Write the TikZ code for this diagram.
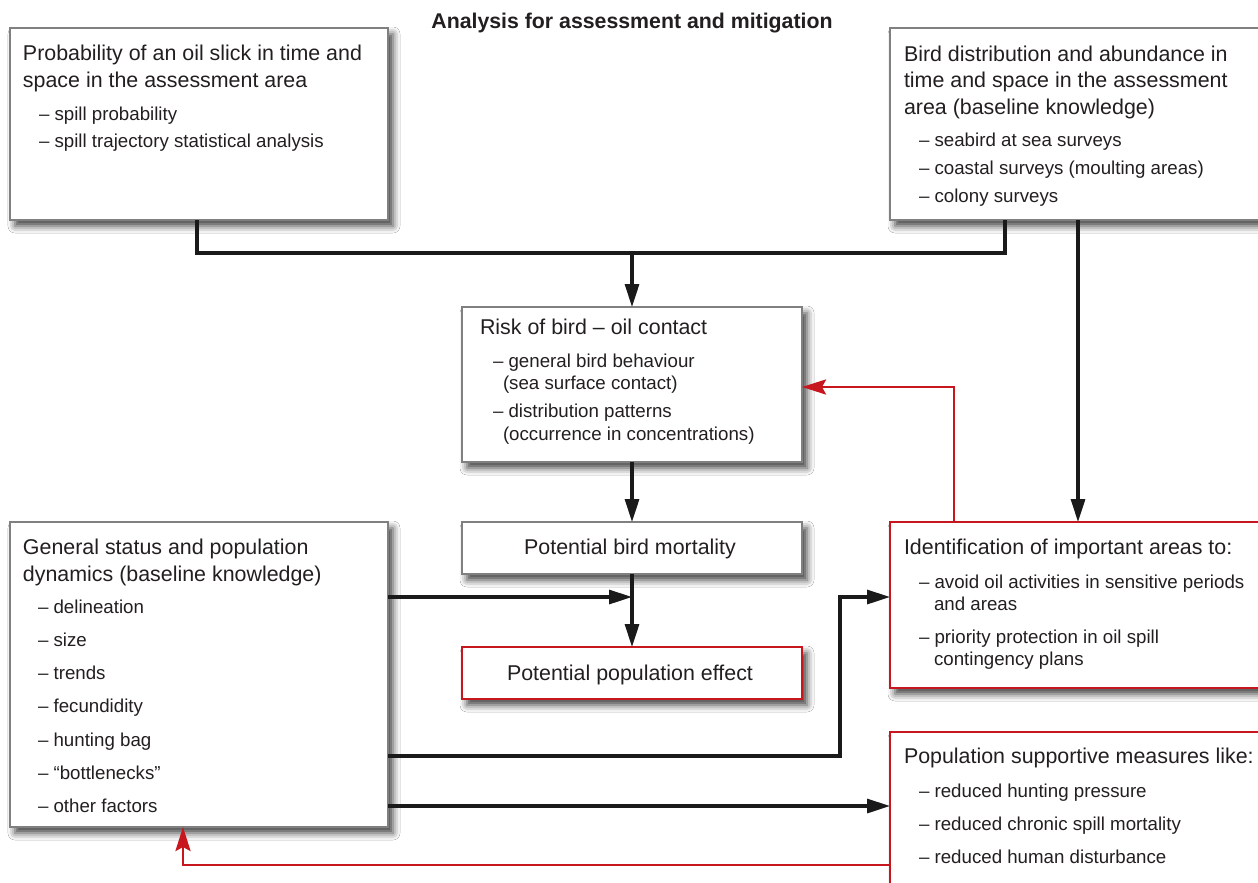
\documentclass[tikz,border=0pt]{standalone}
\usepackage{fontspec}
\setmainfont{Liberation Sans}
\usetikzlibrary{arrows.meta,shadows.blur}
\definecolor{boxgray}{RGB}{128,128,128}
\definecolor{myred}{RGB}{200,22,30}
\definecolor{txt}{RGB}{35,31,32}
\definecolor{lnk}{RGB}{26,26,26}
\tikzset{
  box/.style={draw=boxgray, line width=1.6pt, fill=white, inner sep=0pt, outer sep=0pt,
    anchor=north west,
    blur shadow={shadow xshift=5pt, shadow yshift=-6pt, shadow blur radius=7pt, shadow opacity=75}},
  rbox/.style={box, draw=myred, line width=2.2pt},
  ttl/.style={anchor=base west, inner sep=0pt, outer sep=0pt, text=txt, font=\fontsize{21.4}{26}\selectfont},
  itm/.style={anchor=base west, inner sep=0pt, outer sep=0pt, text=txt, font=\fontsize{18.7}{24}\selectfont},
  conn/.style={draw=lnk, line width=3.2pt},
  arr/.style={conn, -{Triangle[length=23pt,width=14pt]}},
  rarr/.style={draw=myred, line width=2.8pt, -{Stealth[length=24pt,width=15pt,inset=4pt]}},
}
\begin{document}
\begin{tikzpicture}[x=1pt,y=-1pt]
\useasboundingbox (0,0) rectangle (1258,883);
\clip (0,0) rectangle (1258,883);
\fill[white] (0,0) rectangle (1258,883);

% heading
\node[anchor=base, inner sep=0pt, text=txt, font=\bfseries\fontsize{21.3}{26}\selectfont] (head) at (632,29) {Analysis for assessment and mitigation};

% boxes
\node[box, minimum width=378pt, minimum height=192pt] (A) at (10,28) {};
\node[box, minimum width=390pt, minimum height=192pt] (B) at (890,28) {};
\node[box, minimum width=340pt, minimum height=155pt] (C) at (462,307) {};
\node[box, minimum width=340pt, minimum height=52pt] (D) at (462,522) {};
\node[rbox, minimum width=340pt, minimum height=52pt] (E) at (462,647) {};
\node[box, minimum width=378pt, minimum height=305pt] (F) at (10,522) {};
\node[rbox, minimum width=390pt, minimum height=166pt] (G) at (890,522) {};
\node[rbox, minimum width=390pt, minimum height=200pt] (H) at (890,732) {};

% texts A
\node[ttl] (a1) at (23,61) {Probability of an oil slick in time and};
\node[ttl] (a2) at (23,87) {space in the assessment area};
\node[itm] (a3) at (39,120) {– spill probability};
\node[itm] (a4) at (39,147) {– spill trajectory statistical analysis};

% texts B
\node[ttl] (b1) at (904,62) {Bird distribution and abundance in};
\node[ttl] (b2) at (904,88) {time and space in the assessment};
\node[ttl] (b3) at (904,114) {area (baseline knowledge)};
\node[itm] (b4) at (919,146) {– seabird at sea surveys};
\node[itm] (b5) at (919,174) {– coastal surveys (moulting areas)};
\node[itm] (b6) at (919,202) {– colony surveys};

% texts C
\node[ttl] (c1) at (480,334) {Risk of bird – oil contact};
\node[itm] (c2) at (493,367) {– general bird behaviour};
\node[itm] (c3) at (503,389) {(sea surface contact)};
\node[itm] (c4) at (493,417) {– distribution patterns};
\node[itm] (c5) at (503,440) {(occurrence in concentrations)};

% texts D, E
\node[anchor=base, inner sep=0pt, text=txt, font=\fontsize{21.4}{26}\selectfont] (d1) at (630,554) {Potential bird mortality};
\node[anchor=base, inner sep=0pt, text=txt, font=\fontsize{21.4}{26}\selectfont] (e1) at (630,680) {Potential population effect};

% texts F
\node[ttl] (f1) at (23,554) {General status and population};
\node[ttl] (f2) at (23,581) {dynamics (baseline knowledge)};
\node[itm] (f3) at (38,613) {– delineation};
\node[itm] (f4) at (38,646) {– size};
\node[itm] (f5) at (38,679) {– trends};
\node[itm] (f6) at (38,712) {– fecundidity};
\node[itm] (f7) at (38,746) {– hunting bag};
\node[itm] (f8) at (38,779) {– “bottlenecks”};
\node[itm] (f9) at (38,812) {– other factors};

% texts G
\node[ttl] (g1) at (904,554) {Identification of important areas to:};
\node[itm] (g2) at (919,588) {– avoid oil activities in sensitive periods};
\node[itm] (g3) at (934,610) {and areas};
\node[itm] (g4) at (919,643) {– priority protection in oil spill};
\node[itm] (g5) at (934,665) {contingency plans};

% texts H
\node[ttl] (h1) at (904,763) {Population supportive measures like:};
\node[itm] (h2) at (919,797) {– reduced hunting pressure};
\node[itm] (h3) at (919,830) {– reduced chronic spill mortality};
\node[itm] (h4) at (919,863) {– reduced human disturbance};

% helper coordinates
\coordinate (xa) at (197,0);
\coordinate (xb) at (1005,0);
\coordinate (xg) at (1078,0);
\coordinate (ja) at (632,253);
\coordinate (m1) at (632,597);
\coordinate (k1) at (840,756);
\coordinate (k2) at (0,806);
\coordinate (r1) at (954,387);
\coordinate (r2) at (183,865);

% connectors
\draw[conn] (A.south -| xa) |- (ja) -| (B.south -| xb);
\draw[arr] (ja) -- (C.north);
\draw[arr] (B.south -| xg) -- (G.north -| xg);
\draw[arr] (C.south) -- (D.north);
\draw[arr] (D.south) -- (E.north);
\draw[arr] (F.east |- m1) -- (m1);
\draw[arr] (F.east |- k1) -- (k1) |- (G.west |- m1);
\draw[arr] (F.east |- k2) -- (H.west |- k2);
\draw[rarr] (G.north -| r1) |- (C.east |- r1);
\draw[rarr] (H.west |- r2) -| (F.south -| r2);
\end{tikzpicture}
\end{document}
